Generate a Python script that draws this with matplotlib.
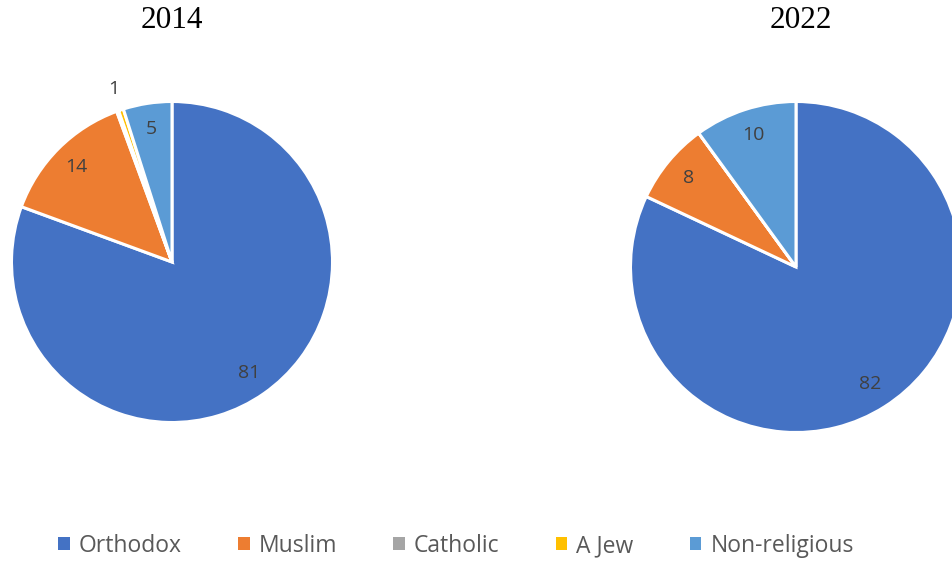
import matplotlib
matplotlib.use("Agg")
import matplotlib.pyplot as plt
from matplotlib.patches import Patch
import numpy as np

# data
religions = ["Orthodox", "Muslim", "Catholic", "A Jew", "Non-religious"]
colors = ["#4472C4", "#ED7D31", "#A5A5A5", "#FFC000", "#5B9BD5"]
years = ["2014", "2022"]
share_2014 = [80.6, 13.8, 0.2, 0.5, 4.9]
share_2022 = [82, 8, 0, 0, 10]
labels_2014 = ["81", "14", "", "1", "5"]
labels_2022 = ["82", "8", "", "", "10"]

W, H = 952, 563
fig = plt.figure(figsize=(W / 100, H / 100), dpi=100)
ax = fig.add_axes([0, 0, 1, 1])
ax.set_xlim(0, W)
ax.set_ylim(H, 0)
ax.set_aspect("equal")
ax.axis("off")


def draw_pie(vals, labs, center, r, title, title_x):
    # y axis is flipped, so counterclock=True draws clockwise on screen
    wedges, _ = ax.pie(vals, colors=colors, center=center, radius=r,
                       startangle=-90, counterclock=True,
                       wedgeprops=dict(edgecolor="white", linewidth=2.2),
                       frame=True)
    for w, lab in zip(wedges, labs):
        if not lab:
            continue
        mid = np.deg2rad((w.theta1 + w.theta2) / 2)
        d = 0.84
        if w.theta2 - w.theta1 < 3:
            d = 1.14
        ax.text(center[0] + d * r * np.cos(mid), center[1] + d * r * np.sin(mid),
                lab, ha="center", va="center", fontsize=14, color="#404040",
                family="Open Sans")
    ax.text(title_x, 21, title, ha="center", va="center", fontsize=22.5,
            family="Liberation Serif", color="black")


draw_pie(share_2014, labels_2014, (172, 262), 160.5, years[0], 172)
draw_pie(share_2022, labels_2022, (796, 267), 165.5, years[1], 801)
ax.set_xlim(0, W)
ax.set_ylim(H, 0)
ax.axis("off")

handles = [Patch(facecolor=c, edgecolor="none") for c in colors]
fig.legend(handles, religions, loc="center", bbox_to_anchor=(0.479, 1 - 546 / H),
           ncol=5, frameon=False, handlelength=0.5, handleheight=0.5,
           handletextpad=0.4, columnspacing=2.45,
           prop=dict(family="Open Sans", size=16.5), labelcolor="#595959")

fig.savefig("out.png", dpi=100)
